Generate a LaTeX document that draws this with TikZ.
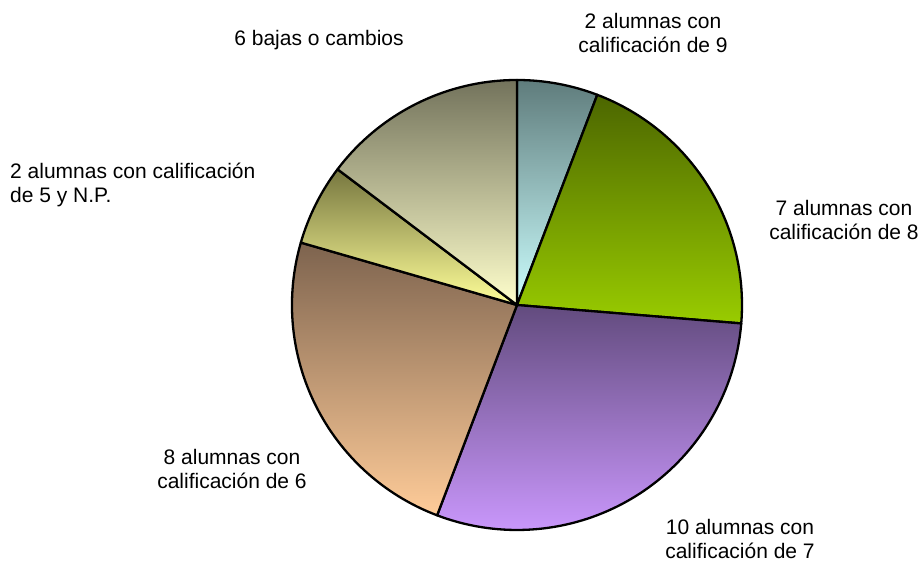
\documentclass[tikz,border=0pt]{standalone}
\usepackage{fontspec}
\setmainfont{Liberation Sans}
\usepackage{tikz}
\usetikzlibrary{positioning}
\definecolor{top9}{HTML}{5F7C7C}
\definecolor{bot9}{HTML}{CCFFFF}
\definecolor{top8}{HTML}{4C6600}
\definecolor{bot8}{HTML}{99CC00}
\definecolor{top7}{HTML}{624B7E}
\definecolor{bot7}{HTML}{CC99FF}
\definecolor{top6}{HTML}{7D634E}
\definecolor{bot6}{HTML}{FFCC99}
\definecolor{top5}{HTML}{76763F}
\definecolor{bot5}{HTML}{FFFF99}
\definecolor{topb}{HTML}{73735C}
\definecolor{botb}{HTML}{FFFFCC}
\tikzset{slice/.style = {draw=black, line width=2.3pt, line join=round},
         lbl/.style = {inner sep=0pt, align=center, font=\fontsize{21}{24.5}\selectfont}}

\begin{document}
\begin{tikzpicture}[x=1pt, y=1pt]
		\useasboundingbox (0,0) rectangle (921,562);
		\coordinate (c) at (517, 257);
		\draw [slice, top color=top9, bottom color=bot9] (c) -- ++(90:225pt) arc [start angle=90, end angle=69.1, radius=225pt] -- cycle;
		\draw [slice, top color=top8, bottom color=bot8] (c) -- ++(69.1:225pt) arc [start angle=69.1, end angle=-4.7, radius=225pt] -- cycle;
		\draw [slice, top color=top7, bottom color=bot7] (c) -- ++(-4.7:225pt) arc [start angle=-4.7, end angle=-110.8, radius=225pt] -- cycle;
		\draw [slice, top color=top6, bottom color=bot6] (c) -- ++(-110.8:225pt) arc [start angle=-110.8, end angle=-196.1, radius=225pt] -- cycle;
		\draw [slice, top color=top5, bottom color=bot5] (c) -- ++(-196.1:225pt) arc [start angle=-196.1, end angle=-217.1, radius=225pt] -- cycle;
		\draw [slice, top color=topb, bottom color=botb] (c) -- ++(-217.1:225pt) arc [start angle=-217.1, end angle=-270, radius=225pt] -- cycle;
		\node [lbl] (bajas) at (319, 522) {6 bajas o cambios};
		\node [lbl] (nueve) at (653, 529) {2 alumnas con\\calificación de 9};
		\node [lbl] (ocho) at (844, 342) {7 alumnas con\\calificación de 8};
		\node [lbl, align=left, anchor=west] (cinco) at (10, 377) {2 alumnas con calificación\\de 5 y N.P.};
		\node [lbl] (seis) at (232, 93) {8 alumnas con\\calificación de 6};
		\node [lbl] (siete) at (740, 23) {10 alumnas con\\calificación de 7};
	\end{tikzpicture}
\end{document}
